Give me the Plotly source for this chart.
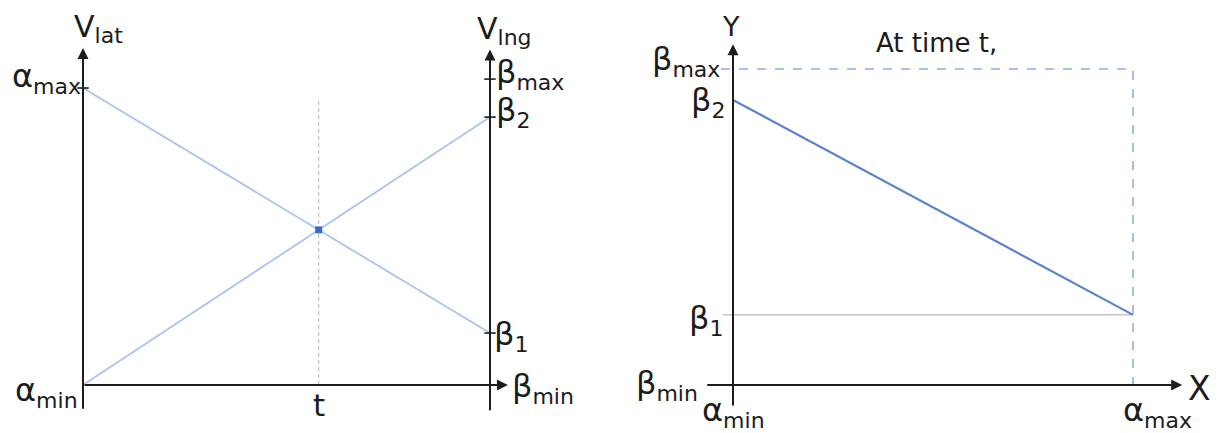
import plotly.graph_objects as go

# ---- left panel: lateral / longitudinal bounds over time ----
t_span = [0.0, 1.0]            # start and end of the time window
lat_line = [1.0, 0.175]        # V_lat goes from alpha_max down to beta_1
lng_line = [0.0, 0.902]        # V_lng goes from alpha_min up to beta_2
left_alpha = {"min": 0.0, "max": 1.0}
left_beta = {"min": 0.0, "1": 0.175, "2": 0.902, "max": 1.03}

# ---- right panel: the X/Y window at time t ----
x_span = [0.0, 1.0]            # alpha_min .. alpha_max
right_beta = {"min": 0.0, "1": 0.222, "2": 0.902, "max": 1.0}
xy_line = [right_beta["2"], right_beta["1"]]

FONT = "DejaVu Sans"
INK = "#1c1c1c"
LIGHT_BLUE = "#a9c5ee"
MID_BLUE = "#5b83cc"
DASH_BLUE = "#8eb0e8"
GREY = "#c6c6c6"
BASE = 32
SUB = 22

# crossing time of the two left-panel lines
slope_lat = lat_line[1] - lat_line[0]
slope_lng = lng_line[1] - lng_line[0]
t_cross = (lng_line[0] - lat_line[0]) / (slope_lat - slope_lng)
v_cross = lat_line[0] + slope_lat * t_cross

fig = go.Figure()

# left panel lines
fig.add_trace(go.Scatter(x=[t_cross, t_cross], y=[0.0, 0.96], mode="lines",
                         line=dict(color=GREY, width=1.3, dash="4px,3px"),
                         xaxis="x", yaxis="y", hoverinfo="skip"))
fig.add_trace(go.Scatter(x=t_span, y=lat_line, mode="lines",
                         line=dict(color=LIGHT_BLUE, width=1.8),
                         xaxis="x", yaxis="y"))
fig.add_trace(go.Scatter(x=t_span, y=lng_line, mode="lines",
                         line=dict(color=LIGHT_BLUE, width=1.8),
                         xaxis="x", yaxis="y"))
fig.add_trace(go.Scatter(x=[t_cross], y=[v_cross], mode="markers",
                         marker=dict(symbol="square", size=7, color="#3a6cc6"),
                         xaxis="x", yaxis="y"))

# right panel lines
fig.add_trace(go.Scatter(x=[-0.03, x_span[1], x_span[1]],
                         y=[right_beta["max"], right_beta["max"], -0.015],
                         mode="lines", line=dict(color=DASH_BLUE, width=1.6, dash="dash"),
                         xaxis="x2", yaxis="y2"))
fig.add_trace(go.Scatter(x=[-0.025, x_span[1]], y=[right_beta["1"], right_beta["1"]],
                         mode="lines", line=dict(color=GREY, width=1.5),
                         xaxis="x2", yaxis="y2"))
fig.add_trace(go.Scatter(x=x_span, y=xy_line, mode="lines",
                         line=dict(color=MID_BLUE, width=2.2),
                         xaxis="x2", yaxis="y2"))

# tick marks on the left panel axes
tick_dt = 0.014
fig.add_trace(go.Scatter(x=[-tick_dt, tick_dt], y=[left_alpha["max"]] * 2, mode="lines",
                         line=dict(color=INK, width=1.6), xaxis="x", yaxis="y"))
for key in ["max", "2", "1"]:
    fig.add_trace(go.Scatter(x=[1 - tick_dt, 1 + tick_dt], y=[left_beta[key]] * 2,
                             mode="lines", line=dict(color=INK, width=1.6),
                             xaxis="x", yaxis="y"))

annotations = []


def arrow(xref, yref, tip, tail):
    annotations.append(dict(x=tip[0], y=tip[1], ax=tail[0], ay=tail[1],
                            xref=xref, yref=yref, axref=xref, ayref=yref,
                            showarrow=True, arrowhead=2, arrowsize=1.1,
                            arrowwidth=2, arrowcolor=INK, text="",
                            standoff=0, startstandoff=0))


def sym(base, sub, sub_size=SUB):
    return f"{base}<sub><span style='font-size:{sub_size}px'>{sub}</span></sub>"


def label(xref, yref, x, y, text, size=BASE, xanchor="center", yanchor="middle",
          dx=0, dy=0):
    annotations.append(dict(x=x, y=y, xref=xref, yref=yref, text=text,
                            showarrow=False, xanchor=xanchor, yanchor=yanchor,
                            xshift=dx, yshift=dy, borderpad=0,
                            font=dict(family=FONT, size=size, color=INK)))


# left panel axes
arrow("x", "y", (0.0, 1.135), (0.0, -0.085))
arrow("x", "y", (1.0, 1.13), (1.0, -0.09))
arrow("x", "y", (1.044, 0.0), (0.0, 0.0))

label("x", "y", 0.0, 1.135, sym("V", "lat", 22), size=30, xanchor="left", dx=-10, dy=19)
label("x", "y", 1.0, 1.13, sym("V", "lng", 22), size=30, xanchor="left", dx=-14, dy=19)
label("x", "y", 0.0, left_alpha["max"], sym("α", "max"), xanchor="right", dx=-1, dy=10)
label("x", "y", 0.0, left_alpha["min"], sym("α", "min"), xanchor="right", dx=-4, dy=-7)
label("x", "y", 1.0, left_beta["max"], sym("β", "max"), xanchor="left", dx=5, dy=5)
label("x", "y", 1.0, left_beta["2"], sym("β", "2"), xanchor="left", dx=5, dy=5)
label("x", "y", 1.0, left_beta["1"], sym("β", "1"), xanchor="left", dx=3, dy=-3)
label("x", "y", 1.0, left_beta["min"], sym("β", "min"), xanchor="left", dx=21, dy=-3)
label("x", "y", t_cross, 0.0, "t", size=31, dy=-20)

# right panel axes
arrow("x2", "y2", (0.0, 1.078), (0.0, -0.07))
arrow("x2", "y2", (1.123, 0.0), (-0.068, 0.0))

label("x2", "y2", 0.0, 1.078, "Y", size=27, dx=-2, dy=18)
label("x2", "y2", 1.123, 0.0, "X", size=33, xanchor="left", dx=5, dy=-3)
label("x2", "y2", 0.0, right_beta["max"], sym("β", "max"), xanchor="right", dx=-12, dy=8)
label("x2", "y2", 0.0, right_beta["2"], sym("β", "2"), xanchor="right", dx=-7, dy=-2)
label("x2", "y2", 0.0, right_beta["1"], sym("β", "1"), xanchor="right", dx=-9, dy=-5)
label("x2", "y2", 0.0, right_beta["min"], sym("β", "min"), xanchor="right", dx=-34, dy=0)
label("x2", "y2", 0.0, right_beta["min"], sym("α", "min"), dx=0, dy=-27)
label("x2", "y2", x_span[1], right_beta["min"], sym("α", "max"), dx=24, dy=-27)

annotations.append(dict(x=936 / 1219, y=1 - 43 / 433, xref="paper", yref="paper",
                        text="At time t,", showarrow=False,
                        xanchor="center", yanchor="middle",
                        font=dict(family=FONT, size=26, color=INK)))

hidden = dict(visible=False, showgrid=False, zeroline=False, fixedrange=True)
fig.update_layout(
    width=1219, height=433, autosize=False,
    margin=dict(l=0, r=0, t=0, b=0),
    paper_bgcolor="white", plot_bgcolor="white",
    showlegend=False,
    xaxis=dict(domain=[0, 0.5], range=[-83 / 407, (609.5 - 83) / 407], **hidden),
    yaxis=dict(domain=[0, 1], range=[-48 / 297, 385 / 297], **hidden),
    xaxis2=dict(domain=[0.5, 1], range=[(609.5 - 733) / 400, (1219 - 733) / 400],
                anchor="y2", **hidden),
    yaxis2=dict(domain=[0, 1], range=[-48 / 316, 385 / 316], anchor="x2", **hidden),
    annotations=annotations,
)

fig.write_html("out.html", config={"displayModeBar": False})
